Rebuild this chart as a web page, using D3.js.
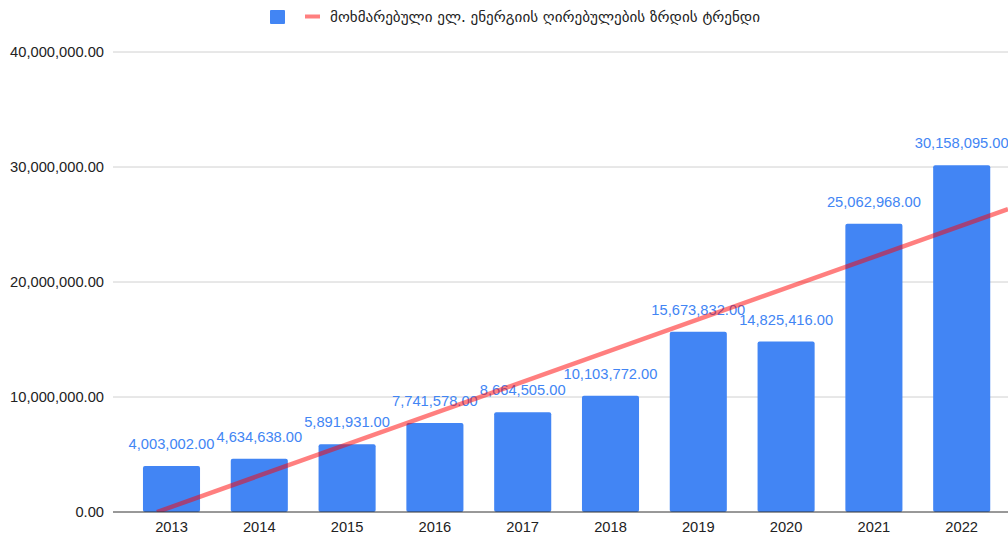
<!DOCTYPE html>
<html>
<head>
<meta charset="utf-8">
<script src="https://cdn.jsdelivr.net/npm/d3@7"></script>
<style>
  body { margin: 0; background: #fff; }
  svg { display: block; font-family: "Liberation Sans", Arial, "DejaVu Sans", sans-serif; }
</style>
</head>
<body>
<div id="chart"></div>
<script>
const years = ["2013", "2014", "2015", "2016", "2017", "2018", "2019", "2020", "2021", "2022"];
const costs = [4003002, 4634638, 5891931, 7741578, 8664505, 10103772, 15673832, 14825416, 25062968, 30158095];
const yTicks = [0, 10000000, 20000000, 30000000, 40000000];
const legendLabel = "მოხმარებული ელ. ენერგიის ღირებულების ზრდის ტრენდი";

const width = 1008, height = 536;
const margin = { top: 52, right: 0, bottom: 24, left: 113 };
const fontSize = 14.7;

const svg = d3.select("#chart").append("svg")
  .attr("width", width)
  .attr("height", height);

const x = d3.scaleBand()
  .domain(years)
  .range([127.6, 1005.6])
  .paddingInner(0.35)
  .paddingOuter(0.175);

const y = d3.scaleLinear()
  .domain([0, 40000000])
  .range([height - margin.bottom, margin.top]);

const fmt = d3.format(",.2f");

// gridlines
svg.append("g")
  .selectAll("line")
  .data(yTicks.slice(1))
  .enter()
  .append("line")
  .attr("x1", margin.left)
  .attr("x2", width)
  .attr("y1", d => y(d))
  .attr("y2", d => y(d))
  .attr("stroke", "#d0d0d0")
  .attr("stroke-width", 1);

// y labels
svg.append("g")
  .selectAll("text")
  .data(yTicks)
  .enter()
  .append("text")
  .attr("x", 104)
  .attr("y", d => y(d))
  .attr("dy", "0.36em")
  .attr("text-anchor", "end")
  .attr("font-size", fontSize)
  .attr("fill", "#222")
  .text(d => fmt(d));

// bars
svg.append("g")
  .selectAll("rect")
  .data(costs)
  .enter()
  .append("rect")
  .attr("x", (d, i) => x(years[i]))
  .attr("width", x.bandwidth())
  .attr("y", d => y(d))
  .attr("height", d => y(0) - y(d))
  .attr("rx", 2)
  .attr("fill", "#4285f4");

// value labels
svg.append("g")
  .selectAll("text")
  .data(costs)
  .enter()
  .append("text")
  .attr("x", (d, i) => x(years[i]) + x.bandwidth() / 2)
  .attr("y", d => y(d) - 17)
  .attr("text-anchor", "middle")
  .attr("font-size", fontSize)
  .attr("fill", "#4285f4")
  .text(d => fmt(d));

// linear trendline (least squares over year index)
const n = costs.length;
const mx = d3.mean(d3.range(n));
const my = d3.mean(costs);
const slope = d3.sum(costs, (v, i) => (i - mx) * (v - my)) / d3.sum(d3.range(n), i => (i - mx) * (i - mx));
const intercept = my - slope * mx;
const step = x.step();
const c0 = x(years[0]) + x.bandwidth() / 2;
const i0 = -intercept / slope;
const i1 = (width - c0) / step;
const xAt = i => c0 + i * step;

svg.append("defs").append("clipPath").attr("id", "plot")
  .append("rect")
  .attr("x", margin.left).attr("y", 0)
  .attr("width", width - margin.left).attr("height", y(0));

svg.append("line")
  .attr("clip-path", "url(#plot)")
  .attr("x1", xAt(i0))
  .attr("y1", y(intercept + slope * i0))
  .attr("x2", xAt(i1))
  .attr("y2", y(intercept + slope * i1))
  .attr("stroke", "#ff0000")
  .attr("stroke-opacity", 0.5)
  .attr("stroke-width", 4.5);

// baseline
svg.append("line")
  .attr("x1", margin.left)
  .attr("x2", width)
  .attr("y1", y(0))
  .attr("y2", y(0))
  .attr("stroke", "#333")
  .attr("stroke-width", 1);

// x labels
svg.append("g")
  .selectAll("text")
  .data(years)
  .enter()
  .append("text")
  .attr("x", d => x(d) + x.bandwidth() / 2)
  .attr("y", 532)
  .attr("text-anchor", "middle")
  .attr("font-size", fontSize)
  .attr("fill", "#222")
  .text(d => d);

// legend
const lg = svg.append("g");
lg.append("rect")
  .attr("x", 270).attr("y", 10)
  .attr("width", 15).attr("height", 14)
  .attr("rx", 1)
  .attr("fill", "#4285f4");
lg.append("line")
  .attr("x1", 305).attr("x2", 320)
  .attr("y1", 16.5).attr("y2", 16.5)
  .attr("stroke", "#ff0000")
  .attr("stroke-opacity", 0.5)
  .attr("stroke-width", 4);
lg.append("text")
  .attr("x", 330).attr("y", 22)
  .attr("font-family", "\"DejaVu Sans\", sans-serif")
  .attr("font-size", 15.1)
  .attr("fill", "#222")
  .text(legendLabel);
</script>
</body>
</html>
